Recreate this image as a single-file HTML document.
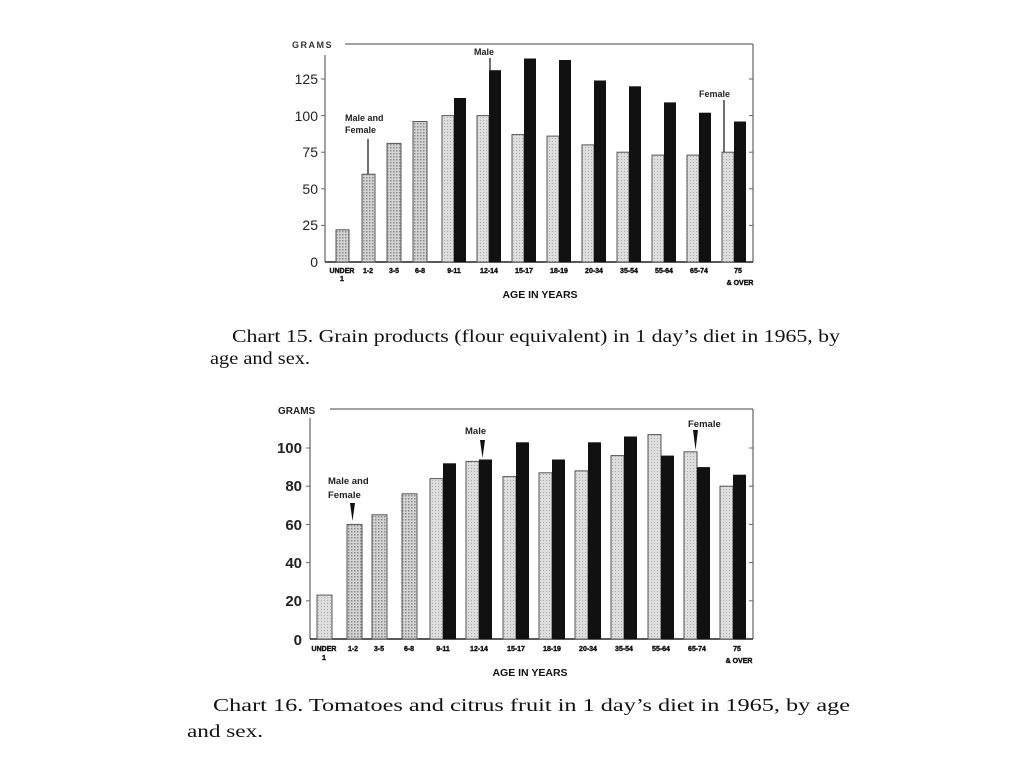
<!DOCTYPE html>
<html><head><meta charset="utf-8"><style>
html,body{margin:0;padding:0;background:#fff;}
svg{display:block;}
.t{font-family:"Liberation Sans",sans-serif;}
.s{font-family:"Liberation Serif",serif;}
</style></head><body>
<svg width="1024" height="768" viewBox="0 0 1024 768" xmlns="http://www.w3.org/2000/svg">
<defs>
<pattern id="dk" width="3" height="3" patternUnits="userSpaceOnUse"><rect width="3" height="3" fill="#d4d4d4"/><rect width="1.5" height="1.5" fill="#8a8a8a"/></pattern>
<pattern id="lt" width="3" height="3" patternUnits="userSpaceOnUse"><rect width="3" height="3" fill="#dedede"/><rect width="1" height="1" fill="#aaa"/></pattern>
</defs>

<!-- CHART 1 -->
<g stroke="#444" stroke-width="1" fill="none">
<line x1="345" y1="44" x2="753" y2="44"/>
<line x1="753" y1="44" x2="753" y2="262"/>
<line x1="325" y1="55" x2="325" y2="262"/>
<line x1="325" y1="262" x2="753" y2="262" stroke="#222" stroke-width="1.5"/>
</g>
<g stroke="#666" stroke-width="1">
<line x1="321" y1="225.4" x2="325" y2="225.4"/><line x1="321" y1="188.8" x2="325" y2="188.8"/><line x1="321" y1="152.2" x2="325" y2="152.2"/><line x1="321" y1="115.6" x2="325" y2="115.6"/><line x1="321" y1="79" x2="325" y2="79"/>
<line x1="749" y1="225.4" x2="753" y2="225.4"/><line x1="749" y1="188.8" x2="753" y2="188.8"/><line x1="749" y1="152.2" x2="753" y2="152.2"/><line x1="749" y1="115.6" x2="753" y2="115.6"/><line x1="749" y1="79" x2="753" y2="79"/>
</g>
<g class="t" font-size="14" fill="#222" text-anchor="end">
<text x="318" y="267">0</text><text x="318" y="230">25</text><text x="318" y="194">50</text><text x="318" y="157">75</text><text x="318" y="121">100</text><text x="318" y="84">125</text>
</g>
<text class="t" x="292" y="48" font-size="9" font-weight="bold" letter-spacing="1.5" fill="#333">GRAMS</text>
<g stroke="#555" stroke-width="1">
<rect x="336" y="229.8" width="13" height="32.2" fill="url(#dk)"/>
<rect x="362" y="174.2" width="13" height="87.8" fill="url(#dk)"/>
<rect x="387" y="143.4" width="14" height="118.6" fill="url(#dk)"/>
<rect x="413" y="121.5" width="14" height="140.5" fill="url(#dk)"/>
<g fill="url(#lt)">
<rect x="442" y="115.6" width="12" height="146.4"/><rect x="477" y="115.6" width="12" height="146.4"/><rect x="512" y="134.6" width="12" height="127.4"/><rect x="547" y="136.1" width="12" height="125.9"/><rect x="582" y="144.9" width="12" height="117.1"/><rect x="617" y="152.2" width="12" height="109.8"/><rect x="652" y="155.1" width="12" height="106.9"/><rect x="687" y="155.1" width="12" height="106.9"/><rect x="722" y="152.2" width="12" height="109.8"/>
</g>
</g>
<g fill="#111">
<rect x="454" y="98" width="12" height="164"/><rect x="489" y="70.2" width="12" height="191.8"/><rect x="524" y="58.5" width="12" height="203.5"/><rect x="559" y="60" width="12" height="202"/><rect x="594" y="80.5" width="12" height="181.5"/><rect x="629" y="86.3" width="12" height="175.7"/><rect x="664" y="102.4" width="12" height="159.6"/><rect x="699" y="112.7" width="12" height="149.3"/><rect x="734" y="121.5" width="12" height="140.5"/>
</g>
<g class="t" font-size="9" font-weight="bold" fill="#222">
<text x="474" y="55">Male</text>
<text x="345" y="121">Male and</text><text x="345" y="133">Female</text>
<text x="699" y="97">Female</text>
</g>
<g stroke="#222" stroke-width="1.3">
<line x1="490" y1="58" x2="490" y2="70"/>
<line x1="368" y1="139" x2="368" y2="174"/>
<line x1="724" y1="100" x2="724" y2="152"/>
</g>
<g class="t" font-size="7" font-weight="bold" fill="#111" stroke="#111" stroke-width="0.4" text-anchor="middle">
<text x="342" y="273">UNDER</text><text x="342" y="281">1</text><text x="368" y="273">1-2</text><text x="394" y="273">3-5</text><text x="420" y="273">6-8</text>
<text x="454" y="273">9-11</text><text x="489" y="273">12-14</text><text x="524" y="273">15-17</text><text x="559" y="273">18-19</text><text x="594" y="273">20-34</text><text x="629" y="273">35-54</text><text x="664" y="273">55-64</text><text x="699" y="273">65-74</text><text x="738" y="273">75</text><text x="740" y="285">&amp; OVER</text>
</g>
<text class="t" x="540" y="298" font-size="10.5" font-weight="bold" text-anchor="middle" fill="#111">AGE IN YEARS</text>
<g class="s" font-size="18" fill="#111">
<text x="232" y="342" textLength="608" lengthAdjust="spacingAndGlyphs">Chart 15. Grain products (flour equivalent) in 1 day’s diet in 1965, by</text>
<text x="210" y="364" textLength="100" lengthAdjust="spacingAndGlyphs">age and sex.</text>
</g>

<!-- CHART 2 -->
<g stroke="#444" stroke-width="1" fill="none">
<line x1="330" y1="409" x2="753" y2="409"/>
<line x1="753" y1="409" x2="753" y2="639"/>
<line x1="310" y1="418" x2="310" y2="639"/>
<line x1="310" y1="639" x2="753" y2="639" stroke="#222" stroke-width="1.5"/>
</g>
<g stroke="#666" stroke-width="1">
<line x1="306" y1="600.8" x2="310" y2="600.8"/><line x1="306" y1="562.6" x2="310" y2="562.6"/><line x1="306" y1="524.4" x2="310" y2="524.4"/><line x1="306" y1="486.2" x2="310" y2="486.2"/><line x1="306" y1="448" x2="310" y2="448"/>
<line x1="749" y1="600.8" x2="753" y2="600.8"/><line x1="749" y1="562.6" x2="753" y2="562.6"/><line x1="749" y1="524.4" x2="753" y2="524.4"/><line x1="749" y1="486.2" x2="753" y2="486.2"/><line x1="749" y1="448" x2="753" y2="448"/>
</g>
<g class="t" font-size="15" font-weight="bold" fill="#222" text-anchor="end">
<text x="302" y="645">0</text><text x="302" y="606">20</text><text x="302" y="568">40</text><text x="302" y="530">60</text><text x="302" y="491">80</text><text x="302" y="453">100</text>
</g>
<text class="t" x="278" y="414" font-size="10" font-weight="bold" fill="#222">GRAMS</text>
<g stroke="#555" stroke-width="1">
<rect x="317" y="595.1" width="15" height="43.9" fill="url(#lt)"/>
<rect x="347" y="524.4" width="15" height="114.6" fill="url(#dk)"/>
<rect x="372" y="514.8" width="15" height="124.2" fill="url(#dk)"/>
<rect x="402" y="493.8" width="15" height="145.2" fill="url(#dk)"/>
<g fill="url(#lt)">
<rect x="430" y="478.6" width="13" height="160.4"/><rect x="466" y="461.4" width="13" height="177.6"/><rect x="503" y="476.6" width="13" height="162.4"/><rect x="539" y="472.8" width="13" height="166.2"/><rect x="575" y="470.9" width="13" height="168.1"/><rect x="611" y="455.6" width="13" height="183.4"/><rect x="648" y="434.6" width="13" height="204.4"/><rect x="684" y="451.8" width="13" height="187.2"/><rect x="720" y="486.2" width="13" height="152.8"/>
</g>
</g>
<g fill="#111">
<rect x="443" y="463.3" width="13" height="175.7"/><rect x="479" y="459.5" width="13" height="179.5"/><rect x="516" y="442.3" width="13" height="196.7"/><rect x="552" y="459.5" width="13" height="179.5"/><rect x="588" y="442.3" width="13" height="196.7"/><rect x="624" y="436.5" width="13" height="202.5"/><rect x="661" y="455.6" width="13" height="183.4"/><rect x="697" y="467.1" width="13" height="171.9"/><rect x="733" y="474.7" width="13" height="164.3"/>
</g>
<g class="t" font-size="9.5" font-weight="bold" fill="#222">
<text x="465" y="434">Male</text>
<text x="328" y="484">Male and</text><text x="328" y="498">Female</text>
<text x="688" y="427">Female</text>
</g>
<g fill="#111">
<polygon points="480,440 485,440 482.5,458"/>
<polygon points="350,503 355,503 352.5,521"/>
<polygon points="693,430 698,430 695.5,450"/>
</g>
<g class="t" font-size="7" font-weight="bold" fill="#111" stroke="#111" stroke-width="0.4" text-anchor="middle">
<text x="324" y="651">UNDER</text><text x="324" y="660">1</text><text x="353" y="651">1-2</text><text x="379" y="651">3-5</text><text x="409" y="651">6-8</text>
<text x="443" y="651">9-11</text><text x="479" y="651">12-14</text><text x="516" y="651">15-17</text><text x="552" y="651">18-19</text><text x="588" y="651">20-34</text><text x="624" y="651">35-54</text><text x="661" y="651">55-64</text><text x="697" y="651">65-74</text><text x="737" y="651">75</text><text x="739" y="663">&amp; OVER</text>
</g>
<text class="t" x="530" y="676" font-size="10.5" font-weight="bold" text-anchor="middle" fill="#111">AGE IN YEARS</text>
<g class="s" font-size="18" fill="#111">
<text x="213" y="711" textLength="637" lengthAdjust="spacingAndGlyphs">Chart 16. Tomatoes and citrus fruit in 1 day’s diet in 1965, by age</text>
<text x="187" y="737" textLength="76" lengthAdjust="spacingAndGlyphs">and sex.</text>
</g>
</svg>
</body></html>
